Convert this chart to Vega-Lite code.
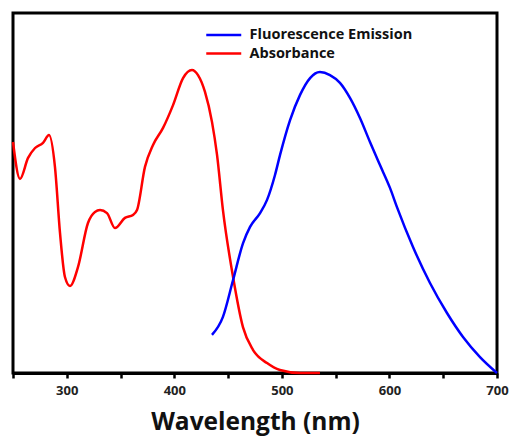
{
  "$schema": "https://vega.github.io/schema/vega-lite/v6.json",
  "width": 484,
  "height": 360,
  "autosize": {"type": "none"},
  "padding": {"left": 13, "top": 13, "right": 15, "bottom": 64},
  "config": {
    "view": {"stroke": "black", "strokeWidth": 3},
    "font": "Open Sans"
  },
  "data": {
    "values": [
      {"wl": 250, "v": 0.77, "s": "Absorbance"},
      {"wl": 256.5, "v": 0.647, "s": "Absorbance"},
      {"wl": 264, "v": 0.717, "s": "Absorbance"},
      {"wl": 270.5, "v": 0.75, "s": "Absorbance"},
      {"wl": 277.9, "v": 0.767, "s": "Absorbance"},
      {"wl": 283.5, "v": 0.793, "s": "Absorbance"},
      {"wl": 289, "v": 0.687, "s": "Absorbance"},
      {"wl": 293.7, "v": 0.467, "s": "Absorbance"},
      {"wl": 298.3, "v": 0.32, "s": "Absorbance"},
      {"wl": 303, "v": 0.29, "s": "Absorbance"},
      {"wl": 310.4, "v": 0.353, "s": "Absorbance"},
      {"wl": 319.7, "v": 0.5, "s": "Absorbance"},
      {"wl": 326.2, "v": 0.537, "s": "Absorbance"},
      {"wl": 330.9, "v": 0.543, "s": "Absorbance"},
      {"wl": 337.4, "v": 0.533, "s": "Absorbance"},
      {"wl": 344.8, "v": 0.483, "s": "Absorbance"},
      {"wl": 354.1, "v": 0.517, "s": "Absorbance"},
      {"wl": 361.6, "v": 0.527, "s": "Absorbance"},
      {"wl": 365.3, "v": 0.543, "s": "Absorbance"},
      {"wl": 372.7, "v": 0.687, "s": "Absorbance"},
      {"wl": 380.2, "v": 0.76, "s": "Absorbance"},
      {"wl": 389.5, "v": 0.817, "s": "Absorbance"},
      {"wl": 398.8, "v": 0.893, "s": "Absorbance"},
      {"wl": 408.1, "v": 0.983, "s": "Absorbance"},
      {"wl": 416.4, "v": 1.01, "s": "Absorbance"},
      {"wl": 422, "v": 0.993, "s": "Absorbance"},
      {"wl": 428.5, "v": 0.937, "s": "Absorbance"},
      {"wl": 435, "v": 0.837, "s": "Absorbance"},
      {"wl": 439.7, "v": 0.727, "s": "Absorbance"},
      {"wl": 445.2, "v": 0.543, "s": "Absorbance"},
      {"wl": 454.6, "v": 0.32, "s": "Absorbance"},
      {"wl": 463.8, "v": 0.153, "s": "Absorbance"},
      {"wl": 473.1, "v": 0.077, "s": "Absorbance"},
      {"wl": 486.2, "v": 0.033, "s": "Absorbance"},
      {"wl": 498.2, "v": 0.01, "s": "Absorbance"},
      {"wl": 516.9, "v": 0.0, "s": "Absorbance"},
      {"wl": 535.4, "v": 0.0, "s": "Absorbance"},
      {"wl": 435, "v": 0.127, "s": "Fluorescence Emission"},
      {"wl": 445.2, "v": 0.187, "s": "Fluorescence Emission"},
      {"wl": 454.6, "v": 0.31, "s": "Fluorescence Emission"},
      {"wl": 463.9, "v": 0.433, "s": "Fluorescence Emission"},
      {"wl": 470.4, "v": 0.487, "s": "Fluorescence Emission"},
      {"wl": 479.7, "v": 0.533, "s": "Fluorescence Emission"},
      {"wl": 486.2, "v": 0.577, "s": "Fluorescence Emission"},
      {"wl": 493.6, "v": 0.66, "s": "Fluorescence Emission"},
      {"wl": 498.3, "v": 0.727, "s": "Fluorescence Emission"},
      {"wl": 507.6, "v": 0.843, "s": "Fluorescence Emission"},
      {"wl": 516.9, "v": 0.927, "s": "Fluorescence Emission"},
      {"wl": 526.2, "v": 0.983, "s": "Fluorescence Emission"},
      {"wl": 535.4, "v": 1.003, "s": "Fluorescence Emission"},
      {"wl": 544.7, "v": 0.993, "s": "Fluorescence Emission"},
      {"wl": 554, "v": 0.967, "s": "Fluorescence Emission"},
      {"wl": 563.3, "v": 0.917, "s": "Fluorescence Emission"},
      {"wl": 572.6, "v": 0.85, "s": "Fluorescence Emission"},
      {"wl": 581.9, "v": 0.77, "s": "Fluorescence Emission"},
      {"wl": 591.2, "v": 0.693, "s": "Fluorescence Emission"},
      {"wl": 600.5, "v": 0.617, "s": "Fluorescence Emission"},
      {"wl": 607, "v": 0.553, "s": "Fluorescence Emission"},
      {"wl": 621.9, "v": 0.42, "s": "Fluorescence Emission"},
      {"wl": 637.7, "v": 0.3, "s": "Fluorescence Emission"},
      {"wl": 653.5, "v": 0.2, "s": "Fluorescence Emission"},
      {"wl": 668.4, "v": 0.12, "s": "Fluorescence Emission"},
      {"wl": 684.2, "v": 0.053, "s": "Fluorescence Emission"},
      {"wl": 700, "v": 0.0, "s": "Fluorescence Emission"}
    ]
  },
  "mark": {"type": "line", "interpolate": "monotone", "strokeWidth": 2.5},
  "encoding": {
    "x": {
      "field": "wl",
      "type": "quantitative",
      "scale": {"domain": [250, 700], "nice": false, "zero": false},
      "axis": {
        "values": [250, 300, 350, 400, 450, 500, 550, 600, 650, 700],
        "labelExpr": "datum.value % 100 == 0 && datum.value > 250 ? datum.label : ''",
        "grid": false,
        "domainColor": "black",
        "domainWidth": 3,
        "tickColor": "black",
        "tickWidth": 2.5,
        "tickSize": 5,
        "labelFontSize": 13,
        "labelFontWeight": "bold",
        "labelColor": "#222",
        "labelPadding": 6,
        "labelFlush": false,
        "title": "Wavelength (nm)",
        "titleFontSize": 24.5,
        "titleFontWeight": "bold",
        "titleColor": "#111",
        "titlePadding": 13
      }
    },
    "y": {
      "field": "v",
      "type": "quantitative",
      "scale": {"domain": [0, 1.2], "nice": false},
      "axis": null
    },
    "color": {
      "field": "s",
      "type": "nominal",
      "sort": ["Fluorescence Emission", "Absorbance"],
      "scale": {"domain": ["Fluorescence Emission", "Absorbance"], "range": ["#0000ff", "#ff0000"]},
      "legend": {
        "orient": "none",
        "legendX": 192,
        "legendY": 12,
        "title": null,
        "symbolType": "M-1,0H3",
        "symbolSize": 306,
        "symbolStrokeWidth": 2.5,
        "labelFontSize": 14.5,
        "labelFontWeight": "bold",
        "labelColor": "#111",
        "labelOffset": 24.5,
        "labelLimit": 400,
        "rowPadding": 1.5,
        "padding": 0
      }
    }
  }
}
